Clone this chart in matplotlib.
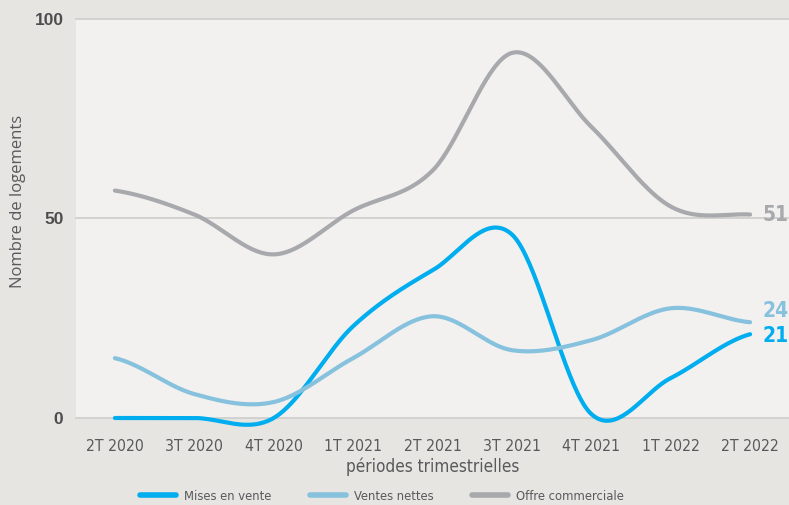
#! /usr/bin/env python3
import numpy as np
from matplotlib import pyplot as plt
from matplotlib import font_manager
from matplotlib.font_manager import FontProperties
from matplotlib.lines import Line2D

# ==== DATA ====

periodes = ['2T 2020', '3T 2020', '4T 2020', '1T 2021', '2T 2021',
            '3T 2021', '4T 2021', '1T 2022', '2T 2022']
mises_en_vente = [0, 0, 0, 23, 37, 46, 1, 10, 21]
ventes_nettes = [15, 6, 4, 15, 25.5, 17, 19.5, 27.5, 24]
offre_commerciale = [57, 51, 41, 52, 62, 91.5, 73, 53, 51]

series_names = ['Mises en vente', 'Ventes nettes', 'Offre commerciale']
series_colors = ['#00aeef', '#86c1de', '#a8a9ad']

# ==== FONTS ====
# the reference uses a condensed face; take one if the box has it

def is_narrow(f):
    return ('Narrow' in f.name or 'Condensed' in f.name
            or str(f.stretch) in ('condensed', 'semi-condensed', 'extra-condensed'))

def wnum(w):
    try:
        return int(w)
    except (TypeError, ValueError):
        return 700 if 'bold' in str(w) else 400

def pick(weight, size):
    cands = [f for f in font_manager.fontManager.ttflist
             if is_narrow(f) and f.style == 'normal']
    if cands:
        best = min(cands, key=lambda f: abs(wnum(f.weight) - weight))
        return FontProperties(fname=best.fname, size=size)
    return FontProperties(family='Liberation Sans',
                          weight='bold' if weight >= 600 else 'normal',
                          size=size * 0.82)

installed = {f.name for f in font_manager.fontManager.ttflist}
regular = 'Open Sans' if 'Open Sans' in installed else 'Liberation Sans'
TXT = '#58595b'


# smooth curve through the points (Catmull-Rom)
def smooth(values, n=40):
    p = np.asarray(values, dtype=float)
    m = np.zeros_like(p)
    m[1:-1] = (p[2:] - p[:-2]) / 2
    m[0] = (p[1] - p[0]) / 2
    m[-1] = (p[-1] - p[-2]) / 2
    xs, ys = [], []
    for i in range(len(p) - 1):
        t = np.linspace(0, 1, n, endpoint=(i == len(p) - 2))
        h00 = 2 * t**3 - 3 * t**2 + 1
        h10 = t**3 - 2 * t**2 + t
        h01 = -2 * t**3 + 3 * t**2
        h11 = t**3 - t**2
        xs.append(i + t)
        ys.append(h00 * p[i] + h10 * m[i] + h01 * p[i + 1] + h11 * m[i + 1])
    return np.concatenate(xs), np.concatenate(ys)


fig = plt.figure(figsize=(7.89, 5.05), dpi=100, facecolor='#e6e5e1')
ax = fig.add_axes([76 / 789, 1 - 418 / 505, 713 / 789, 399 / 505])
ax.set_facecolor('#f2f1ef')

for s in ax.spines.values():
    s.set_visible(False)

ax.set_xlim(-0.49, len(periodes) - 1 + 0.49)
ax.set_ylim(0, 100)
ax.set_yticks([0, 50, 100])
ax.set_xticks(range(len(periodes)))
ax.set_xticklabels(periodes)

for v in [0, 50, 100]:
    ax.axhline(v, color='#cfcfcd', lw=1.3, zorder=1, clip_on=False)

ax.tick_params(length=0)
ax.tick_params(axis='x', pad=15, labelcolor=TXT)
ax.tick_params(axis='y', pad=9, labelsize=12.5, labelcolor='#4d4d4f')
for lab in ax.get_xticklabels():
    lab.set_fontproperties(pick(400, 11.3))
for lab in ax.get_yticklabels():
    lab.set_fontfamily('Liberation Sans')
    lab.set_fontweight('bold')

all_series = [mises_en_vente, ventes_nettes, offre_commerciale]
for vals, color in zip(all_series, series_colors):
    xs, ys = smooth(vals)
    ax.plot(xs, ys, color=color, lw=3, solid_capstyle='round', zorder=3, clip_on=False)

# end-of-line labels (the "24" one nudged up so it clears "21")
offsets = [-1, 8, 0]
last = len(periodes) - 1
for vals, color, dy in zip(all_series, series_colors, offsets):
    ax.annotate(f'{vals[-1]:g}', xy=(last, vals[-1]), xytext=(9, dy),
                textcoords='offset points', ha='left', va='center',
                color=color, fontproperties=pick(700, 15),
                annotation_clip=False)

ax.set_xlabel('périodes trimestrielles', color=TXT,
              fontproperties=pick(400, 12.3), labelpad=2.5)
ax.set_ylabel('Nombre de logements', fontsize=12, color=TXT, family=regular)
ax.yaxis.set_label_coords(-0.07, 0.544)

handles = [Line2D([], [], color=c, lw=4, solid_capstyle='round') for c in series_colors]
fig.legend(handles, series_names, loc='center', ncol=3,
           bbox_to_anchor=(382 / 789, 1 - 496 / 505), frameon=False,
           prop=pick(400, 9.3), labelcolor=TXT,
           handlelength=2.8, handletextpad=0.6, columnspacing=3.0)

fig.savefig('out.png', dpi=100, facecolor=fig.get_facecolor())
